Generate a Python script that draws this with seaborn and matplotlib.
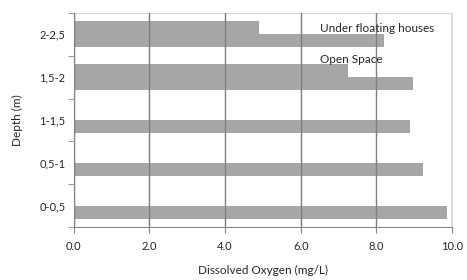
import matplotlib
matplotlib.use('Agg')
import matplotlib.pyplot as plt
import numpy as np
import pandas as pd
import seaborn as sns
from matplotlib.patches import Patch

# data
depths = ["2-2,5", "1,5-2", "1-1,5", "0,5-1", "0-0,5"]
open_space = [4.9, 7.25, np.nan, np.nan, np.nan]
under_houses = [8.2, 8.97, 8.9, 9.23, 9.87]
x_ticks = [0, 2, 4, 6, 8, 10]
legend_labels = ["Under floating houses", "Open Space"]

df = pd.DataFrame({
    "Depth": depths * 2,
    "DO": open_space + under_houses,
    "Site": ["Open Space"] * 5 + ["Under floating houses"] * 5,
}).dropna()

sns.set_style("white")
plt.rcParams['font.family'] = ['Lato', 'DejaVu Sans']

fig = plt.figure(figsize=(4.67, 2.8), dpi=100)
ax = fig.add_axes([0.158, 0.189, 0.81, 0.765])

sns.barplot(data=df, y="Depth", x="DO", hue="Site", order=depths,
            hue_order=["Open Space", "Under floating houses"],
            palette=["#a6a6a6", "#a6a6a6"], width=0.6, dodge=True,
            linewidth=0, legend=False, ax=ax, errorbar=None)

ax.set_xlim(0, 10)
ax.set_ylim(4.5, -0.5)
ax.set_xticks(x_ticks)
ax.set_xticklabels([f"{v:.1f}" for v in x_ticks])
ax.set_yticks(range(len(depths)))
ax.set_yticklabels(depths)
ax.set_yticks(np.arange(-0.5, len(depths), 1), minor=True)

ax.grid(axis="x", color="#7f7f7f", linewidth=1)
ax.set_axisbelow(False)

for s in ["top", "right"]:
    ax.spines[s].set_color("#d9d9d9")
for s in ["left", "bottom"]:
    ax.spines[s].set_color("#868686")

ax.tick_params(axis="y", which="major", length=0, pad=6, labelsize=8)
ax.tick_params(axis="y", which="minor", length=4, color="#868686", direction="out", left=True)
ax.tick_params(axis="x", length=4, color="#868686", direction="out", bottom=True, labelsize=8, pad=6)

ax.set_xlabel("Dissolved Oxygen (mg/L)", fontsize=8.5, labelpad=9)
ax.set_ylabel("Depth (m)", fontsize=8.5, labelpad=12)

handles = [Patch(facecolor="none", edgecolor="none", label=l) for l in legend_labels]
ax.legend(handles=handles, loc="upper left", bbox_to_anchor=(0.65, 0.955),
          frameon=False, handlelength=0, handletextpad=0, labelspacing=1.7,
          borderaxespad=0, borderpad=0, fontsize=8.5)

fig.savefig("out.png", dpi=100)
